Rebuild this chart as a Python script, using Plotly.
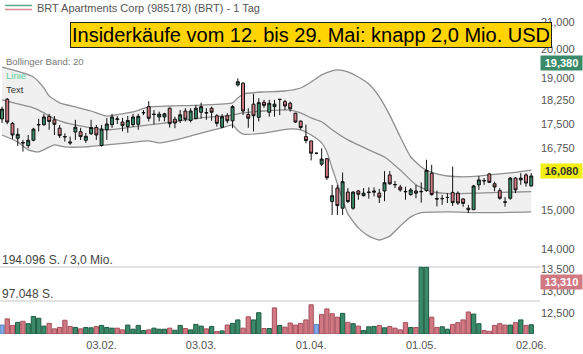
import math
import plotly.graph_objects as go

# ---------------- data ----------------
idx = list(range(102))
tick_idx = [19, 38, 59, 80, 101]
tick_txt = ["03.02.", "03.03.", "01.04.", "01.05.", "02.06."]

open_ = [17.66,18.29,17.52,17.06,16.93,16.84,17.00,17.47,17.48,17.74,
         17.63,17.37,17.10,16.95,17.25,17.26,17.00,17.20,17.39,16.84,
         17.32,17.48,17.64,17.56,17.42,17.48,17.49,17.85,18.05,17.81,
         17.72,17.72,18.00,17.65,17.61,17.91,17.61,17.67,17.87,17.86,
         18.00,17.76,17.40,17.76,17.60,18.76,18.82,17.80,18.13,17.71,
         18.19,17.87,18.05,18.29,18.21,18.16,17.84,17.59,17.11,16.98,
         16.61,16.29,16.45,15.24,15.61,15.06,15.50,15.06,15.53,15.40,
         15.50,15.53,15.47,15.53,15.98,15.70,15.64,15.52,15.43,15.53,
         15.52,15.54,16.03,15.32,15.32,15.35,15.49,15.47,15.31,15.06,
         15.02,15.70,15.81,16.01,15.73,15.54,15.22,15.33,15.89,15.84,
         15.98,15.67]
high = [18.05,18.33,17.56,17.37,17.01,17.16,17.38,17.66,17.81,17.82,
        17.75,17.47,17.21,17.11,17.63,17.38,17.22,17.63,17.47,17.47,
        17.69,17.82,17.75,17.69,17.75,17.82,17.82,17.94,18.23,17.94,
        17.89,17.85,18.02,17.73,17.94,18.00,18.00,18.10,18.18,18.00,
        18.05,17.81,17.81,17.84,18.10,18.98,18.85,18.00,18.46,18.32,
        18.27,18.27,18.27,18.30,18.27,18.21,17.85,17.61,17.48,16.98,
        16.63,16.76,16.47,15.70,15.70,16.05,15.61,15.52,15.56,15.61,
        15.63,15.63,15.59,16.09,16.09,15.81,15.70,15.65,15.61,15.70,
        15.77,16.42,16.27,15.54,15.42,15.47,16.22,15.52,15.33,15.15,
        15.70,15.95,15.89,16.03,15.79,15.61,15.36,15.92,15.92,16.03,
        16.03,16.03]
low = [17.53,17.49,17.04,16.83,16.66,16.76,16.97,17.27,17.44,17.32,
       17.16,17.07,16.96,16.86,17.01,17.01,16.92,17.16,17.01,16.81,
       17.01,17.38,17.50,17.27,17.23,17.41,17.32,17.78,17.58,17.49,
       17.58,17.58,17.39,17.37,17.53,17.58,17.55,17.65,17.67,17.63,
       17.60,17.42,17.37,17.52,17.37,18.71,17.78,17.38,17.27,17.58,
       18.01,17.73,17.73,17.78,17.94,17.89,17.53,17.32,16.91,16.40,
       16.58,16.24,15.84,14.88,14.88,14.88,15.20,15.02,15.29,15.38,
       15.32,15.38,15.20,15.25,15.70,15.61,15.51,15.29,15.40,15.33,
       15.21,15.51,15.40,15.11,15.15,15.20,15.12,15.15,15.10,14.93,
       15.01,15.56,15.70,15.75,15.52,15.29,15.10,15.29,15.47,15.70,
       15.65,15.65]
close = [17.97,17.56,17.16,17.18,16.92,17.00,17.34,17.48,17.72,17.58,
         17.49,17.14,17.11,16.92,17.40,17.11,17.12,17.39,17.16,17.34,
         17.50,17.72,17.66,17.45,17.61,17.72,17.74,17.86,17.68,17.80,
         17.81,17.82,17.51,17.53,17.79,17.65,17.91,18.00,18.05,17.85,
         17.87,17.52,17.73,17.60,18.05,18.87,17.91,17.68,17.76,18.18,
         18.09,18.16,18.13,18.28,18.07,17.98,17.56,17.39,16.99,16.61,
         16.61,16.44,15.90,15.40,15.13,15.79,15.24,15.50,15.44,15.47,
         15.49,15.50,15.36,15.76,15.73,15.71,15.56,15.51,15.56,15.47,
         15.51,16.11,15.43,15.31,15.32,15.35,15.21,15.20,15.19,15.02,
         15.67,15.84,15.82,15.77,15.64,15.33,15.23,15.89,15.56,15.89,
         15.75,15.95]
volume = [26000,44000,25000,34000,37000,30000,51000,46000,23000,31000,
          15000,19000,40000,22000,19000,15000,19000,18000,22000,25000,
          19000,17000,17000,12000,26000,14000,25000,10000,12000,17000,
          14000,14000,17000,11000,25000,16000,12000,28000,23000,15000,
          22000,7000,9000,26000,31000,41000,17000,50000,41000,62000,
          16000,16000,76000,25000,20000,32000,26000,31000,41000,85000,
          28000,57000,73000,59000,49000,60000,34000,30000,23000,10000,
          21000,22000,25000,18000,22000,17000,12000,33000,19000,19000,
          194096,194096,49000,19000,21000,14000,28000,33000,41000,64000,
          58000,30000,10000,8000,25000,30000,26000,26000,33000,41000,
          25000,27000]

# Bollinger band (20)
band_up_x = [0,2,4,6,8,9,11,14,17,20,23,25,28,32,38,44,45,46,50,54,
             57,59,61,63,64,66,68,70,72,74,76,78,80,81,83,85,89,93,97,101]
band_up = [19.37,19.27,19.17,19.03,18.66,18.40,18.17,18.04,17.91,17.75,
           17.82,17.88,18.04,18.07,18.10,18.17,18.33,18.46,18.53,18.56,
           18.66,18.86,19.10,19.24,19.27,19.20,19.03,18.79,18.37,17.78,
           17.10,16.50,16.21,16.12,16.01,15.95,15.93,15.98,16.04,16.12]
band_mid_x = [0,3,6,8,10,13,16,20,25,31,38,44,46,50,55,57,59,61,63,66,
              68,70,73,76,79,82,86,92,101]
band_mid = [18.27,18.14,18.01,17.85,17.66,17.50,17.41,17.32,17.41,17.53,
            17.69,17.78,17.85,17.91,17.94,17.85,17.69,17.57,17.32,17.01,
            16.86,16.71,16.50,16.12,15.70,15.51,15.45,15.48,15.51]
band_lo_x = [0,3,5,7,10,12,16,20,24,28,30,34,38,42,44,45,46,50,55,57,
             59,61,62,63,64,65,66,68,70,72,74,76,78,80,85,92,101]
band_lo = [17.16,16.95,16.71,16.65,16.86,16.80,16.80,16.86,16.92,16.98,
           16.92,17.04,17.22,17.38,17.47,17.29,17.19,17.22,17.35,17.32,
           17.16,16.92,16.65,16.18,15.73,15.29,14.91,14.54,14.33,14.23,
           14.33,14.59,14.83,14.94,14.96,14.94,14.96]

price_ticks = [12.5, 13.0, 13.5, 14.0, 15.0, 16.75, 17.5, 18.25, 19.0, 20.0, 21.0]
price_tick_txt = ["12,500", "13,000", "13,500", "14,000", "15,000", "16,750",
                  "17,500", "18,250", "19,000", "20,000", "21,000"]
vol_grid = [97048, 194096]
vol_grid_txt = ["97.048 S.", "194.096 S. / 3,0 Mio."]

badges = [19.38, 16.08, 13.31]
badge_txt = ["19,380", "16,080", "13,310"]

title_txt = "Insiderkäufe vom 12. bis 29. Mai: knapp 2,0 Mio. USD"
header_txt = "BRT Apartments Corp (985178) (BRT) - 1 Tag"

# ---------------- styling ----------------
UP = "#3a8a69"
DN = "#d17883"
FLAT = "#80a8e6"
FONT = "Arial, Liberation Sans, sans-serif"
PRICE_RANGE = [1.08043, 1.33904]

PLOT_H = 334.0  # plot area height in px
def py(px):  # paper y from pixel y (top=0)
    return 1 - px / PLOT_H

vol_col, vol_line = [], []
for i, c in enumerate(close):
    if i == 0 or c == close[i - 1]:
        vol_col.append(FLAT); vol_line.append("#5a80c0")
    elif c > close[i - 1]:
        vol_col.append(UP); vol_line.append("#1f5c44")
    else:
        vol_col.append(DN); vol_line.append("#a4505b")

fig = go.Figure()

# band fill (base subplot, drawn first)
fig.add_trace(go.Scatter(
    x=band_up_x + band_lo_x[::-1], y=band_up + band_lo[::-1],
    fill="toself", fillcolor="#f0f0f0", line=dict(width=0),
    mode="lines", hoverinfo="skip", showlegend=False))
for bx, by in [(band_up_x, band_up), (band_mid_x, band_mid), (band_lo_x, band_lo)]:
    fig.add_trace(go.Scatter(
        x=bx, y=by, mode="lines", hoverinfo="skip", showlegend=False,
        line=dict(color="#8f8f8f", width=1.3, shape="spline", smoothing=0.5)))

fig.add_trace(go.Bar(
    x=idx, y=volume, yaxis="y2", width=0.82,
    marker=dict(color=vol_col, line=dict(color=vol_line, width=1)),
    showlegend=False, hoverinfo="skip"))

fig.add_trace(go.Candlestick(
    x=idx, open=open_, high=high, low=low, close=close, yaxis="y3",
    increasing=dict(fillcolor=UP, line=dict(color="#111111", width=1)),
    decreasing=dict(fillcolor=DN, line=dict(color="#111111", width=1)),
    whiskerwidth=0, showlegend=False, hoverinfo="skip"))

ann = []
ann.append(dict(text=title_txt, xref="paper", yref="paper",
                x=310.5 / 540, y=py(35.5), xanchor="center", yanchor="middle",
                showarrow=False, font=dict(family=FONT, size=20, color="#000"),
                bgcolor="#ffd400", bordercolor="#222", borderwidth=1, borderpad=1))
ann.append(dict(text=header_txt, xref="paper", yref="paper", x=35 / 540, y=py(8),
                xanchor="left", yanchor="middle", showarrow=False,
                font=dict(family=FONT, size=11, color="#555")))
ann.append(dict(text="Bollinger Band: 20", xref="paper", yref="paper", x=4 / 540, y=py(61),
                xanchor="left", yanchor="middle", showarrow=False,
                font=dict(family=FONT, size=9.5, color="#777")))
ann.append(dict(text="Linie", xref="paper", yref="paper", x=4 / 540, y=py(75),
                xanchor="left", yanchor="middle", showarrow=False,
                font=dict(family=FONT, size=9.5, color="#5fcf9c")))
ann.append(dict(text="Text", xref="paper", yref="paper", x=4 / 540, y=py(89),
                xanchor="left", yanchor="middle", showarrow=False,
                font=dict(family=FONT, size=9.5, color="#333")))
for v, t in zip(vol_grid, vol_grid_txt):
    ann.append(dict(text=t, xref="paper", yref="y2", x=0, y=v,
                    xanchor="left", yanchor="bottom", showarrow=False, yshift=-2,
                    font=dict(family=FONT, size=12, color="#444")))
badge_style = [("#3a8a69", "#fff", 4), ("#f2ee10", "#333", 0), ("#d17883", "#fff", -4)]
for v, t, (bg, fc, ys) in zip(badges, badge_txt, badge_style):
    ann.append(dict(text="<b>" + t + "</b>", xref="paper", yref="y", x=1, y=math.log10(v),
                    xanchor="left", yanchor="middle", showarrow=False, yshift=ys,
                    width=39, bgcolor=bg, borderpad=1,
                    font=dict(family=FONT, size=11, color=fc)))

shapes = [
    dict(type="line", xref="paper", yref="paper", x0=5 / 540, x1=32 / 540,
         y0=py(5.5), y1=py(5.5), line=dict(color="#5aa88a", width=1.5)),
    dict(type="line", xref="paper", yref="paper", x0=5 / 540, x1=32 / 540,
         y0=py(9.5), y1=py(9.5), line=dict(color="#d88a92", width=1.5)),
]

fig.update_layout(
    width=583, height=354,
    margin=dict(l=0, r=43, t=0, b=20),
    paper_bgcolor="white", plot_bgcolor="white",
    font=dict(family=FONT, size=11, color="#555"),
    boxgap=0.2,
    xaxis=dict(range=[-0.382, 102.67], tickvals=tick_idx, ticktext=tick_txt,
               showgrid=False, zeroline=False, showline=False, ticks="",
               ticklabelstandoff=3,
               rangeslider=dict(visible=False),
               tickfont=dict(family=FONT, size=11, color="#555")),
    yaxis=dict(type="log", range=PRICE_RANGE, side="right",
               tickvals=price_ticks, ticktext=price_tick_txt,
               showgrid=False, zeroline=False, showline=False, ticks="",
               tickfont=dict(family=FONT, size=11, color="#555")),
    yaxis2=dict(overlaying="y", range=[0, 971940], side="left",
                tickvals=vol_grid, showticklabels=False, showgrid=True,
                gridcolor="#e2e2e2", gridwidth=1.5, zeroline=False, ticks=""),
    yaxis3=dict(overlaying="y", type="log", range=PRICE_RANGE, side="right",
                showticklabels=False, showgrid=False, zeroline=False, ticks=""),
    annotations=ann, shapes=shapes, showlegend=False,
)

fig.write_html("out.html", config={"displayModeBar": False})
